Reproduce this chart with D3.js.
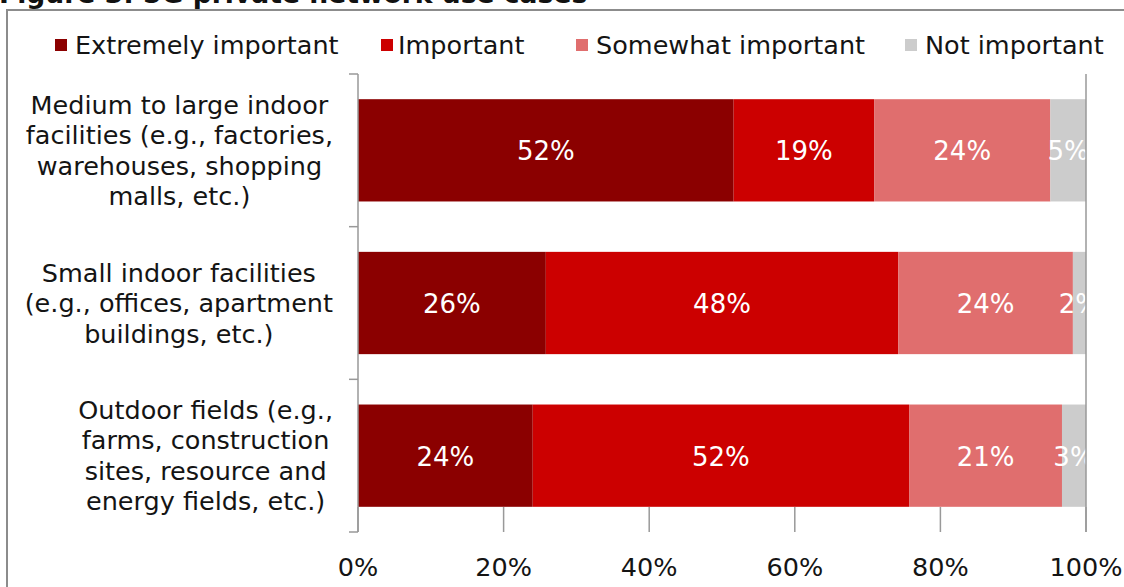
<!DOCTYPE html>
<html lang="en">
<head>
    <meta charset="UTF-8">
    <title>5G private network use cases</title>
    <script src="https://d3js.org/d3.v7.min.js"></script>
    <style>
        body {
            margin: 0;
            overflow: hidden;
            background-color: #fff;
            font-family: "DejaVu Sans", Verdana, sans-serif;
        }
        .frame { fill: none; stroke: #8c8c8c; stroke-width: 2; }
        .axis-line { stroke: #999; stroke-width: 1.5; }
        .cat-label, .tick-label, .legend-label { fill: #141414; font-size: 25.5px; }
        .seg-label { fill: #fff; font-size: 26px; }
        .title { font-weight: bold; font-size: 26.6px; fill: #111; }
    </style>
</head>
<body>
    <div id="container"></div>

    <script>
        const width = 1124;
        const height = 587;

        const series = ['Extremely important', 'Important', 'Somewhat important', 'Not important'];
        const colors = ['#8b0000', '#cc0000', '#e06e6e', '#cccccc'];

        const categories = [
            ['Medium to large indoor', 'facilities (e.g., factories,', 'warehouses, shopping', 'malls, etc.)'],
            ['Small indoor facilities', '(e.g., offices, apartment', 'buildings, etc.)'],
            ['Outdoor fields (e.g.,', 'farms, construction', 'sites, resource and', 'energy fields, etc.)']
        ];

        // share of respondents per category, in series order
        const extremely = [51.6, 25.8, 24.0];
        const important = [19.3, 48.4, 51.7];
        const somewhat = [24.2, 24.0, 21.0];
        const notImportant = [4.9, 1.8, 3.3];

        const xTicks = [0, 20, 40, 60, 80, 100];

        const margin = { top: 74, right: 38, bottom: 55, left: 358 };

        const svg = d3.select('#container').append('svg')
            .attr('width', width)
            .attr('height', height);

        svg.append('text')
            .attr('class', 'title')
            .attr('x', -1)
            .attr('y', 3)
            .text('Figure 3: 5G private network use cases');

        svg.append('rect')
            .attr('class', 'frame')
            .attr('x', 7)
            .attr('y', 10)
            .attr('width', width + 20)
            .attr('height', height + 20);

        const x = d3.scaleLinear()
            .domain([0, 100])
            .range([margin.left, width - margin.right]);

        const y = d3.scaleBand()
            .domain(d3.range(categories.length))
            .range([margin.top, height - margin.bottom])
            .paddingInner(0.33)
            .paddingOuter(0.165);

        const rows = d3.range(categories.length).map(i => {
            const vals = [extremely[i], important[i], somewhat[i], notImportant[i]];
            let acc = 0;
            return vals.map((v, j) => {
                const seg = { row: i, series: j, value: v, x0: acc, x1: acc + v };
                acc += v;
                return seg;
            });
        });

        svg.append('clipPath').attr('id', 'plot-clip')
            .append('rect')
            .attr('x', x(0))
            .attr('y', margin.top)
            .attr('width', x(100) - x(0))
            .attr('height', height - margin.bottom - margin.top);

        const plot = svg.append('g').attr('clip-path', 'url(#plot-clip)');

        const segs = rows.flat();

        plot.selectAll('.bar')
            .data(segs)
            .join('rect')
            .attr('class', 'bar')
            .attr('x', d => x(d.x0))
            .attr('y', d => y(d.row))
            .attr('width', d => x(d.x1) - x(d.x0))
            .attr('height', y.bandwidth())
            .attr('fill', d => colors[d.series]);

        plot.selectAll('.seg-label')
            .data(segs)
            .join('text')
            .attr('class', 'seg-label')
            .attr('x', d => (x(d.x0) + x(d.x1)) / 2)
            .attr('y', d => y(d.row) + y.bandwidth() / 2 + 10)
            .attr('text-anchor', 'middle')
            .text(d => Math.round(d.value) + '%');

        // left axis line with category separator ticks
        const bottom = height - margin.bottom;
        svg.append('line')
            .attr('class', 'axis-line')
            .attr('x1', x(0)).attr('x2', x(0))
            .attr('y1', margin.top).attr('y2', bottom);

        const step = y.step();
        const sepYs = d3.range(categories.length + 1).map(i => y(0) - y.paddingOuter() * step + i * step);
        svg.selectAll('.sep-tick')
            .data(sepYs)
            .join('line')
            .attr('class', 'axis-line')
            .attr('x1', x(0) - 9).attr('x2', x(0))
            .attr('y1', d => d).attr('y2', d => d);

        // right border of plot area
        svg.append('line')
            .attr('class', 'axis-line')
            .attr('x1', x(100)).attr('x2', x(100))
            .attr('y1', margin.top).attr('y2', bottom);

        // x ticks (inside, upward from the bottom)
        svg.selectAll('.x-tick')
            .data(xTicks)
            .join('line')
            .attr('class', 'axis-line')
            .attr('x1', d => x(d)).attr('x2', d => x(d))
            .attr('y1', bottom - 25).attr('y2', bottom);

        svg.selectAll('.tick-label')
            .data(xTicks)
            .join('text')
            .attr('class', 'tick-label')
            .attr('x', d => x(d))
            .attr('y', bottom + 44)
            .attr('text-anchor', 'middle')
            .text(d => d + '%');

        // category labels: block right-aligned near the axis, lines centred in the block
        const lineH = 30.5;
        const labelRight = 333;
        categories.forEach((lines, i) => {
            const cy = y(i) + y.bandwidth() / 2;
            const t = svg.append('text')
                .attr('class', 'cat-label')
                .attr('text-anchor', 'middle');
            const spans = lines.map((ln, k) => t.append('tspan')
                .attr('y', cy + (k - (lines.length - 1) / 2) * lineH + 9)
                .text(ln));
            const maxW = d3.max(spans, s => s.node().getComputedTextLength());
            spans.forEach(s => s.attr('x', labelRight - maxW / 2));
        });

        // legend
        const legendX = [55, 381, 576, 905];
        const legend = svg.selectAll('.legend')
            .data(series)
            .join('g')
            .attr('class', 'legend')
            .attr('transform', (d, i) => `translate(${legendX[i]},45)`);

        legend.append('rect')
            .attr('x', 0).attr('y', -6)
            .attr('width', 12).attr('height', 12)
            .attr('fill', (d, i) => colors[i]);

        legend.append('text')
            .attr('class', 'legend-label')
            .attr('x', (d, i) => i === 1 ? 17 : 20)
            .attr('y', 9)
            .text(d => d);
    </script>
</body>
</html>
